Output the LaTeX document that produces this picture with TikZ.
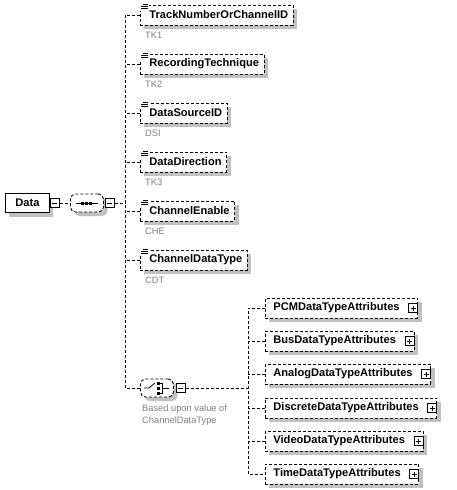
\documentclass[tikz,border=0pt]{standalone}
\usepackage{fontspec}
\setmainfont{Liberation Sans}
\usetikzlibrary{calc}
\usetikzlibrary{shadows}
\definecolor{shadowgray}{RGB}{192,192,192}
\definecolor{notegray}{RGB}{128,128,128}
\newcommand{\elemfont}{\bfseries\fontsize{11.1}{13}\selectfont}
\newcommand{\notefont}{\fontsize{9.3}{12}\selectfont}
\tikzset{
  dashline/.style={line width=0.9pt, dash pattern=on 3pt off 2pt},
  boxshadow/.style={drop shadow={shadow xshift=4pt, shadow yshift=-4pt, fill=shadowgray, opacity=1}},
  dashbox/.style={draw, dashline, fill=white, boxshadow, anchor=west, minimum height=20pt, inner ysep=0pt, inner xsep=5pt, font=\elemfont},
  elembox/.style={dashbox, execute at begin node={\hspace*{4pt}}},
  attrbox/.style={dashbox, execute at begin node={\hspace*{3pt}}, execute at end node={\hspace*{13pt}}},
  databox/.style={draw, line width=0.9pt, fill=white, boxshadow, anchor=west, minimum width=44pt, minimum height=19pt, inner sep=0pt, font=\elemfont},
  compbox/.style={draw, dashline, fill=white, boxshadow, rounded corners=5pt, anchor=west, minimum width=33pt, minimum height=18pt, inner sep=0pt},
  togglebox/.style={draw, solid, fill=white, line width=0.8pt, minimum size=9pt, inner sep=0pt},
  minusbox/.style={togglebox, path picture={\draw[line width=0.8pt] ([xshift=2pt]path picture bounding box.west) -- ([xshift=-2pt]path picture bounding box.east);}},
  plusbox/.style={togglebox, path picture={\draw[line width=0.8pt] ([xshift=2pt]path picture bounding box.west) -- ([xshift=-2pt]path picture bounding box.east) ([yshift=-2pt]path picture bounding box.north) -- ([yshift=2pt]path picture bounding box.south);}},
  note/.style={anchor=west, text=notegray, font=\notefont, inner sep=0pt},
  icon/.style={line width=0.8pt}
}

\begin{document}
\begin{tikzpicture}[x=1pt, y=-1pt]
    \useasboundingbox (0,0) rectangle (456,490);
    % root and sequence
    \node[databox] (data) at (5,203) {Data};
    \node[minusbox, anchor=west] (dataMinus) at (data.east) {};
    \node[compbox] (seq) at (70,203) {};
    \node[minusbox, anchor=west] (seqMinus) at ([xshift=1pt]seq.east) {};
    \draw[dashline] (dataMinus.east) -- (seq.west);
    \draw[icon] ([xshift=-11pt]seq.center) -- ([xshift=11pt]seq.center);
    \foreach \dx in {-4,0,4}
        \fill ([xshift=\dx pt]seq.center) +(-1.5,-1.5) rectangle +(1.5,1.5);

    \coordinate (leftTop) at (125,15);
    \coordinate (leftBot) at (125,388);
    \draw[dashline] (seqMinus.east) -- (seqMinus.east -| leftTop);

    % child elements
    \node[elembox] (trackNo) at (140,15) {TrackNumberOrChannelID};
    \node[elembox] (recTech) at (140,64) {RecordingTechnique};
    \node[elembox] (srcId) at (140,113) {DataSourceID};
    \node[elembox] (dataDir) at (140,162) {DataDirection};
    \node[elembox] (chanEn) at (140,211) {ChannelEnable};
    \node[elembox] (chanType) at (140,260) {ChannelDataType};
    \node[note] (trackNoNote) at (145,35) {TK1};
    \node[note] (recTechNote) at (145,84) {TK2};
    \node[note] (srcIdNote) at (145,133) {DSI};
    \node[note] (dataDirNote) at (145,182) {TK3};
    \node[note] (chanEnNote) at (145,231) {CHE};
    \node[note] (chanTypeNote) at (145,280) {CDT};
    \foreach \n in {trackNo,recTech,srcId,dataDir,chanEn,chanType} {
        \fill[white] ([xshift=-1pt,yshift=2pt]\n.north west) rectangle ([xshift=9pt,yshift=-6pt]\n.north west);
        \draw[icon] ([xshift=3pt,yshift=0.5pt]\n.north west) -- ([xshift=8pt,yshift=0.5pt]\n.north west);
        \draw[icon] ([xshift=1pt,yshift=-1.5pt]\n.north west) -- ([xshift=8pt,yshift=-1.5pt]\n.north west);
        \draw[icon] ([xshift=1pt,yshift=-3.5pt]\n.north west) -- ([xshift=8pt,yshift=-3.5pt]\n.north west);
    }

    % choice
    \node[compbox] (choice) at (140,388) {};
    \node[minusbox, anchor=west] (choiceMinus) at ([xshift=2pt]choice.east) {};
    \node[note, anchor=north west, align=left] (choiceNote) at (142,405) {Based upon value of\\ChannelDataType};
    \draw[icon] ([xshift=-13pt]choice.center) -- ([xshift=-8pt]choice.center) -- ([xshift=-2pt,yshift=5pt]choice.center);
    \foreach \dy in {-5,0,5}
        \fill ([xshift=2pt]choice.center) +(-1.5,\dy-1.5) rectangle +(1.5,\dy+1.5);
    \draw[icon] ([xshift=3.5pt,yshift=5pt]choice.center) -| ([xshift=5.5pt,yshift=-5pt]choice.center) -- ([xshift=3.5pt,yshift=-5pt]choice.center);
    \draw[icon] ([xshift=5.5pt]choice.center) -- ([xshift=12pt]choice.center);

    \draw[dashline] (trackNo.west) -- (leftTop) -- (leftBot) -- (choice.west);
    \foreach \n in {recTech,srcId,dataDir,chanEn,chanType}
        \draw[dashline] (\n.west) -- (\n.west -| leftTop);

    % attribute groups
    \coordinate (rightTop) at (248,308);
    \coordinate (rightBot) at (248,474);
    \node[attrbox] (pcmAttr) at (265,308) {PCMDataTypeAttributes};
    \node[attrbox] (busAttr) at (265,341) {BusDataTypeAttributes};
    \node[attrbox] (analogAttr) at (265,374) {AnalogDataTypeAttributes};
    \node[attrbox] (discreteAttr) at (265,408) {DiscreteDataTypeAttributes};
    \node[attrbox] (videoAttr) at (265,441) {VideoDataTypeAttributes};
    \node[attrbox] (timeAttr) at (265,474) {TimeDataTypeAttributes};
    \foreach \n in {pcmAttr,busAttr,analogAttr,discreteAttr,videoAttr,timeAttr}
        \node[plusbox, anchor=east] (\n Plus) at (\n.east) {};

    \draw[dashline] (choiceMinus.east) -- (choiceMinus.east -| rightTop);
    \draw[dashline] (pcmAttr.west) -- (rightTop) -- (rightBot) -- (timeAttr.west);
    \foreach \n in {busAttr,analogAttr,discreteAttr,videoAttr}
        \draw[dashline] (\n.west) -- (\n.west -| rightTop);
\end{tikzpicture}
\end{document}
